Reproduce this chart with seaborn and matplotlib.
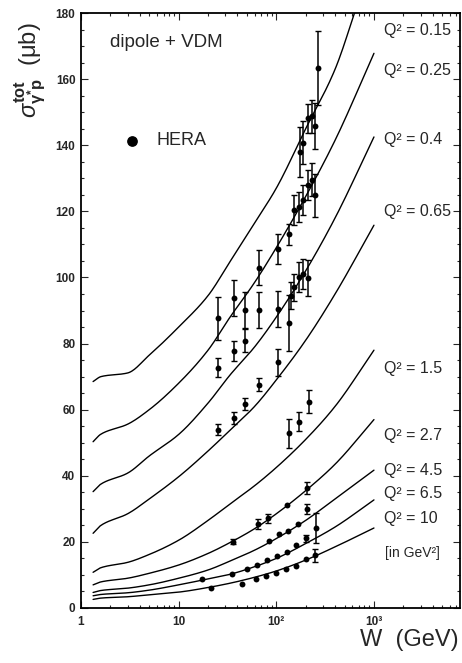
import numpy as np
import pandas as pd
import matplotlib
matplotlib.use("Agg")
import matplotlib.pyplot as plt
import seaborn as sns
from matplotlib.ticker import LogLocator, MultipleLocator, FixedLocator, FixedFormatter, NullFormatter

sns.set_theme(style="ticks")
plt.rcParams['font.family'] = ['Liberation Sans', 'DejaVu Sans']
plt.rcParams['mathtext.fontset'] = 'custom'
plt.rcParams['mathtext.rm'] = 'Liberation Sans'
plt.rcParams['mathtext.it'] = 'Liberation Sans:italic'
plt.rcParams['mathtext.bf'] = 'Liberation Sans:bold'

# ---- model curves (dipole + VDM) ----
q2_labels = ["0.15", "0.25", "0.4", "0.65", "1.5", "2.7", "4.5", "6.5", "10"]
w_grid = [1.33, 1.6, 3, 5, 10, 20, 33.6, 60, 100, 200, 400, 1000]
w_grid_015 = [1.33, 1.6, 3, 5, 10, 20, 33.6, 60, 100, 200, 400, 700]
curve_015 = [68.5, 70.0, 71.1, 76.5, 85.0, 94.5, 104.8, 116.5, 127.0, 145.0, 163.0, 184.0]
curve_025 = [50.3, 52.6, 55.6, 60.0, 68.0, 78.0, 88.0, 98.5, 109.0, 124.5, 141.5, 167.8]
curve_04 = [35.2, 37.5, 40.8, 46.0, 52.5, 62.0, 70.5, 79.0, 88.0, 102.0, 118.0, 142.5]
curve_065 = [22.6, 25.0, 28.5, 33.0, 39.7, 47.5, 53.8, 61.0, 69.0, 81.0, 95.0, 115.8]
curve_15 = [10.8, 12.2, 13.8, 16.2, 20.5, 26.5, 31.5, 37.0, 42.5, 51.0, 61.0, 78.0]
curve_27 = [7.0, 7.9, 9.0, 10.5, 13.0, 16.5, 19.8, 24.0, 28.5, 35.5, 43.5, 57.0]
curve_45 = [4.7, 5.3, 6.0, 7.0, 9.0, 11.5, 14.2, 17.5, 21.0, 26.5, 33.0, 41.7]
curve_65 = [3.7, 4.1, 4.6, 5.4, 7.0, 8.8, 10.2, 12.5, 15.0, 19.5, 24.5, 32.7]
curve_10 = [2.6, 3.0, 3.4, 4.0, 4.8, 6.2, 7.5, 9.3, 11.2, 14.5, 18.5, 24.2]

# ---- HERA data ----
hera_w_015 = [175, 189, 212, 230, 249, 269]
hera_s_015 = [138.0, 140.8, 148.1, 148.8, 145.8, 163.4]
hera_e_015 = [7.5, 6.5, 4.5, 5.0, 7.0, 11.3]
hera_w_025 = [67, 103, 134, 153, 171, 189, 212, 233, 249]
hera_s_025 = [102.9, 108.5, 113.0, 120.3, 121.2, 123.4, 127.9, 129.5, 124.9]
hera_e_025 = [5.3, 4.5, 3.3, 4.5, 4.5, 4.5, 4.5, 5.0, 6.5]
hera_w_04 = [25, 36.9, 47.8, 67, 104.6, 135, 142, 153, 171, 189, 212]
hera_s_04 = [87.6, 93.7, 90.1, 90.1, 90.4, 86.1, 94.5, 97.0, 100.2, 101.0, 99.9]
hera_e_04 = [6.5, 5.5, 5.5, 5.5, 5.5, 8.5, 4.0, 4.0, 4.5, 4.5, 5.5]
hera_w_065 = [25, 36.9, 47.8, 67, 104.6]
hera_s_065 = [72.7, 77.8, 80.9, 67.5, 74.3]
hera_e_065 = [2.8, 3.0, 3.5, 2.0, 4.0]
hera_w_15 = [25, 36.9, 47.8, 136, 171, 217]
hera_s_15 = [54.0, 57.6, 61.6, 52.8, 56.4, 62.4]
hera_e_15 = [1.8, 1.8, 1.8, 4.5, 3.0, 3.5]
hera_w_27 = [36.3, 64.4, 81.6, 130, 205]
hera_s_27 = [20.1, 25.4, 27.1, 31.2, 36.2]
hera_e_27 = [0.8, 1.4, 1.4, 0.0, 1.8]
hera_w_45 = [84, 106, 133, 165, 205, 253]
hera_s_45 = [20.3, 22.3, 23.3, 25.4, 29.9, 24.1]
hera_e_45 = [0.0, 0.0, 0.0, 0.0, 1.6, 4.5]
hera_w_65 = [17.2, 35.6, 50.4, 64, 79.6, 101, 128, 158, 200]
hera_s_65 = [8.7, 10.2, 11.7, 13.0, 14.5, 15.7, 17.0, 19.1, 21.1]
hera_e_65 = [0.0, 0.0, 0.0, 0.0, 0.0, 0.0, 0.0, 0.0, 1.0]
hera_w_10 = [21.4, 44.3, 62, 78.6, 99, 125, 158, 200, 250]
hera_s_10 = [6.0, 7.3, 8.7, 9.8, 10.7, 11.8, 12.8, 14.7, 16.0]
hera_e_10 = [0.0, 0.0, 0.0, 0.0, 0.0, 0.0, 0.0, 0.0, 2.0]

x_ticks = [1, 10, 100, 1000]
x_ticklabels = ["1", "10", "10²", "10³"]
y_ticks = [0, 20, 40, 60, 80, 100, 120, 140, 160, 180]


def pchip(x, y, xn):
    x = np.asarray(x, float); y = np.asarray(y, float)
    h = np.diff(x); d = np.diff(y) / h
    m = np.zeros_like(y)
    m[0], m[-1] = d[0], d[-1]
    for k in range(1, len(x) - 1):
        if d[k - 1] * d[k] > 0:
            w1 = 2 * h[k] + h[k - 1]; w2 = h[k] + 2 * h[k - 1]
            m[k] = (w1 + w2) / (w1 / d[k - 1] + w2 / d[k])
    idx = np.clip(np.searchsorted(x, xn) - 1, 0, len(x) - 2)
    t = (xn - x[idx]) / h[idx]
    h00 = 2 * t**3 - 3 * t**2 + 1; h10 = t**3 - 2 * t**2 + t
    h01 = -2 * t**3 + 3 * t**2; h11 = t**3 - t**2
    return h00 * y[idx] + h10 * h[idx] * m[idx] + h01 * y[idx + 1] + h11 * h[idx] * m[idx + 1]


curves = [curve_015, curve_025, curve_04, curve_065, curve_15, curve_27, curve_45, curve_65, curve_10]
rows = []
for lab, c in zip(q2_labels, curves):
    grid = w_grid_015 if lab == "0.15" else w_grid
    lw = np.log10(grid)
    fine = np.linspace(lw[0], lw[-1], 200)
    vals = pchip(lw, c, fine)
    for xw, yv in zip(10 ** fine, vals):
        rows.append({"Q2": lab, "W": xw, "sigma": yv})
df_curves = pd.DataFrame(rows)

hera = [
    (hera_w_015, hera_s_015, hera_e_015), (hera_w_025, hera_s_025, hera_e_025),
    (hera_w_04, hera_s_04, hera_e_04), (hera_w_065, hera_s_065, hera_e_065),
    (hera_w_15, hera_s_15, hera_e_15), (hera_w_27, hera_s_27, hera_e_27),
    (hera_w_45, hera_s_45, hera_e_45), (hera_w_65, hera_s_65, hera_e_65),
    (hera_w_10, hera_s_10, hera_e_10),
]
drows = []
for lab, (w, s, e) in zip(q2_labels, hera):
    for a, b, c in zip(w, s, e):
        drows.append({"Q2": lab, "W": a, "sigma": b, "err": c})
df_data = pd.DataFrame(drows)

fig = plt.figure(figsize=(4.62, 6.63), dpi=100)
ax = fig.add_axes([81 / 462, 1 - 608 / 663, (460 - 81) / 462, (608 - 13) / 663])

sns.lineplot(data=df_curves, x="W", y="sigma", units="Q2", estimator=None,
             color="black", lw=1.0, ax=ax, legend=False, sort=False)
eb = df_data[df_data["err"] > 0]
ax.errorbar(eb["W"], eb["sigma"], yerr=eb["err"], fmt="none", ecolor="black",
            elinewidth=1.1, capsize=2.5, capthick=1.0)
sns.scatterplot(data=df_data, x="W", y="sigma", color="black", s=18,
                edgecolor="black", linewidth=0, ax=ax, legend=False)

ax.set_xscale("log")
ax.set_xlim(1, 10 ** ((460 - 81) / 97.65))
ax.set_ylim(0, 180)
ax.set_xlabel("")
ax.set_ylabel("")

ax.xaxis.set_major_locator(FixedLocator(x_ticks))
ax.xaxis.set_major_formatter(FixedFormatter(x_ticklabels))
ax.xaxis.set_minor_locator(LogLocator(base=10, subs=np.arange(2, 10), numticks=20))
ax.xaxis.set_minor_formatter(NullFormatter())
ax.yaxis.set_major_locator(FixedLocator(y_ticks))
ax.yaxis.set_minor_locator(MultipleLocator(5))

ax.tick_params(which="both", direction="in", top=True, right=True, width=0.8,
               labelsize=8.5)
ax.tick_params(which="major", length=5)
ax.tick_params(which="minor", length=2.5)
ax.tick_params(axis="x", pad=6)
ax.tick_params(axis="y", pad=4)
for t in ax.get_xticklabels() + ax.get_yticklabels():
    t.set_fontweight("bold")
for sp in ax.spines.values():
    sp.set_linewidth(1.3)
    sp.set_color("black")

# Q2 labels
label_y = [174.8, 162.7, 141.6, 120.1, 72.6, 52.3, 41.7, 34.5, 27.2]
for lab, yv in zip(q2_labels, label_y):
    ax.text(1270, yv, f"Q² = {lab}", fontsize=11.5, va="center", ha="left")
ax.text(1300, 16.6, "[in GeV²]", fontsize=10, va="center", ha="left")

ax.text(1.98, 171.2, "dipole + VDM", fontsize=13.5, va="center", ha="left")
ax.scatter([3.33], [141.3], s=45, color="black", zorder=5)
ax.text(5.9, 141.3, "HERA", fontsize=13, va="center", ha="left")

fig.text(30 / 462, 1 - 70 / 663, r"$\sigma^{\mathbf{tot}}_{\mathbf{\gamma^{*}p}}$  (μb)",
         rotation=90, fontsize=17, ha="center", va="center")
fig.text(459 / 462, 1 - 640 / 663, "W  (GeV)", fontsize=17, ha="right", va="center")

fig.savefig("out.png", dpi=100)
